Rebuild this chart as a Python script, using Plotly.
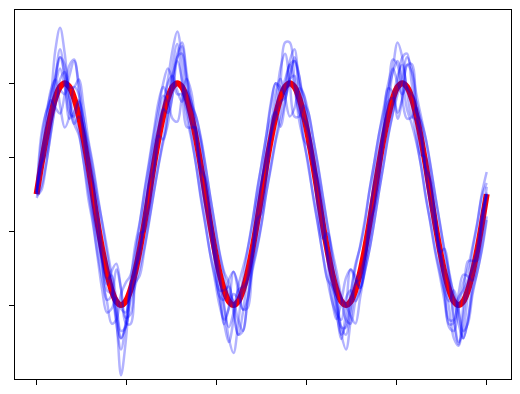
import plotly.graph_objects as go

# sample grid: 97 points from 0 to 5
x_vals = [round(i * 5 / 96, 5) for i in range(97)]

red_wave = [0, .39, .75, 1.06, 1.30, 1.45, 1.50, 1.45, 1.30, 1.06, .75, .39,
            0, -.39, -.75, -1.06, -1.30, -1.45, -1.50, -1.45, -1.30, -1.06, -.75, -.39,
            0, .39, .75, 1.06, 1.30, 1.45, 1.50, 1.45, 1.30, 1.06, .75, .39,
            0, -.39, -.75, -1.06, -1.30, -1.45, -1.50, -1.45, -1.30, -1.06, -.75, -.39,
            0, .39, .75, 1.06, 1.30, 1.45, 1.50, 1.45, 1.30, 1.06, .75, .39,
            0, -.39, -.75, -1.06, -1.30, -1.45, -1.50, -1.45, -1.30, -1.06, -.75, -.39,
            0, .39, .75, 1.06, 1.30, 1.45, 1.50, 1.45, 1.30, 1.06, .75, .39,
            0, -.39, -.75, -1.06, -1.30, -1.45, -1.50, -1.45, -1.30, -1.06, -.75, -.39,
            0]

noisy_a = [0, .41, .53, .90, 1.56, 1.96, 1.58, 1.02, 1.11, 1.27, 1.01, .55,
           .22, -.15, -.90, -1.43, -1.37, -1.02, -1.28, -1.74, -1.76, -1.11, -.53, -.50,
           -.20, .35, .79, .74, 1.11, 1.74, 2.03, 1.52, .91, .90, .90, .70,
           .15, -.30, -.64, -1.27, -1.76, -1.52, -1.05, -1.23, -1.56, -1.43, -.79, -.10,
           .18, .65, 1.01, 1.11, .91, 1.23, 1.80, 1.96, 1.37, .74, .64, .35,
           -.22, -.60, -.53, -.90, -1.56, -1.96, -1.58, -1.02, -1.11, -1.27, -1.01, -.25,
           .12, .45, .90, 1.43, 1.37, 1.02, 1.28, 1.74, 1.76, 1.11, .53, .50,
           .20, -.35, -.79, -.74, -1.11, -1.74, -2.03, -1.52, -.91, -.90, -.90, -.30,
           0]

noisy_b = [.02, .43, .94, 1.27, 1.17, 1.09, 1.35, 1.74, 1.82, 1.38, .75, .20,
           -.25, -.60, -.98, -1.22, -1.04, -.94, -1.28, -1.67, -1.63, -1.17, -.68, -.15,
           .20, .60, 1.01, 1.33, 1.24, 1.02, .98, 1.31, 1.56, 1.38, .86, .20,
           -.20, -.55, -.86, -1.38, -1.43, -1.16, -1.05, -1.31, -1.56, -1.54, -.98, -.55,
           -.15, .20, .86, 1.38, 1.56, 1.31, 1.05, 1.16, 1.43, 1.33, .90, .55,
           .18, -.20, -.86, -1.43, -1.69, -1.45, -1.13, -1.02, -1.17, -1.27, -.98, -.60,
           -.20, .15, .79, 1.33, 1.82, 1.74, 1.28, 1.02, 1.04, 1.17, .98, .30,
           -.15, -.50, -.71, -1.27, -1.76, -1.74, -1.35, -1.09, -1.11, -1.17, -.90, -.55,
           0]

noisy_c = [0, .30, .70, 1.25, 1.95, 2.25, 1.90, 1.30, .95, 1.05, .90, .60,
           .20, -.45, -.95, -1.30, -1.35, -1.70, -2.45, -2.00, -1.30, -1.00, -.85, -.30,
           .15, .35, .80, 1.20, 1.55, 1.95, 2.20, 1.85, 1.25, .95, .85, .30,
           -.15, -.40, -.85, -1.15, -1.50, -1.95, -2.15, -1.75, -1.30, -1.20, -.90, -.25,
           .20, .45, .80, 1.10, 1.50, 2.05, 2.05, 1.55, 1.10, 1.00, .85, .55,
           .15, -.40, -.85, -1.20, -1.45, -1.90, -2.10, -1.70, -1.20, -1.05, -.85, -.55,
           -.15, .40, .85, 1.20, 1.70, 2.05, 1.85, 1.40, 1.05, 1.00, .80, .25,
           -.10, -.40, -.80, -1.15, -1.55, -1.95, -2.05, -1.65, -1.20, -1.00, -.80, -.25,
           0]

noisy_d = [.02, .50, .95, 1.40, 1.55, 1.20, .90, 1.05, 1.45, 1.35, .80, .35,
           -.20, -.55, -.90, -1.15, -1.10, -1.45, -1.85, -1.80, -1.35, -.95, -.72, -.42,
           .25, .65, .90, 1.15, 1.10, 1.35, 1.85, 2.00, 1.55, 1.05, .70, .33,
           .20, -.30, -.95, -1.30, -1.30, -1.25, -1.60, -1.90, -1.60, -1.10, -.75, -.35,
           -.25, .25, .85, 1.20, 1.70, 1.90, 1.50, 1.05, 1.05, 1.20, .90, .42,
           -.15, -.55, -.75, -1.00, -1.35, -1.80, -1.90, -1.55, -1.20, -1.15, -.90, -.40,
           .25, .60, .95, 1.25, 1.30, 1.10, 1.30, 1.75, 1.65, 1.15, .70, .35,
           .20, -.25, -.90, -1.30, -1.45, -1.30, -1.55, -1.95, -1.70, -1.15, -.70, -.35,
           .02]

noisy_e = [-.02, .05, .38, .82, 1.20, 1.40, 1.35, 1.60, 1.80, 1.50, 1.00, .70,
           .35, -.05, -.38, -.72, -1.10, -1.55, -1.95, -1.75, -1.35, -1.20, -1.10, -.75,
           -.38, .02, .38, .70, .95, 1.35, 1.85, 1.90, 1.55, 1.20, 1.05, .78,
           .40, -.02, -.40, -.78, -1.05, -1.20, -1.50, -1.90, -1.85, -1.40, -1.00, -.72,
           -.38, .02, .36, .72, .98, 1.25, 1.60, 1.80, 1.60, 1.25, 1.10, .75,
           .38, -.02, -.42, -.80, -1.15, -1.40, -1.50, -1.65, -1.75, -1.40, -1.05, -.75,
           -.38, .02, .40, .78, 1.10, 1.45, 1.85, 1.90, 1.50, 1.10, .98, .75,
           .40, -.02, -.38, -.78, -1.10, -1.35, -1.60, -1.85, -1.75, -1.35, -1.05, -.75,
           -.35]

noisy_f = [.03, .40, .70, 1.00, 1.45, 1.70, 1.45, 1.10, 1.05, 1.25, 1.00, .40,
           .15, -.30, -.70, -.95, -1.25, -1.75, -2.10, -1.75, -1.25, -1.05, -.78, -.38,
           -.18, .25, .75, 1.10, 1.50, 1.60, 1.40, 1.25, 1.40, 1.25, .80, .40,
           .22, -.20, -.70, -1.05, -1.55, -1.80, -1.60, -1.30, -1.25, -1.15, -.80, -.42,
           .15, .55, .78, 1.05, 1.25, 1.30, 1.55, 1.85, 1.60, 1.05, .75, .38,
           .20, -.25, -.78, -1.20, -1.60, -1.70, -1.40, -1.30, -1.45, -1.30, -.80, -.38,
           -.20, .22, .70, 1.00, 1.25, 1.60, 1.75, 1.45, 1.35, 1.25, .80, .36,
           .15, -.28, -.75, -1.00, -1.20, -1.65, -2.00, -1.85, -1.35, -.95, -.75, -.40,
           .10]

noisy_g = [0, .80, 1.10, 1.25, 1.60, 1.85, 1.60, 1.20, .95, .80, .45, -.05,
           -.40, -.85, -1.30, -1.60, -1.55, -1.40, -1.55, -1.60, -1.20, -.70, -.38, .05,
           .45, .85, 1.25, 1.45, 1.35, 1.60, 1.80, 1.55, 1.05, .75, .40, -.05,
           -.42, -.80, -1.10, -1.40, -1.75, -2.00, -1.70, -1.25, -1.00, -.75, -.40, .05,
           .40, .80, 1.25, 1.50, 1.40, 1.55, 1.75, 1.45, 1.00, .70, .40, -.05,
           -.42, -.80, -1.15, -1.25, -1.45, -1.80, -1.80, -1.35, -.95, -.72, -.40, .05,
           .42, .80, 1.15, 1.50, 1.70, 1.50, 1.35, 1.45, 1.20, .75, .38, -.05,
           -.38, -.75, -1.05, -1.35, -1.70, -1.70, -1.40, -1.30, -1.15, -.75, -.40, -.02,
           .15]

noisy_h = [.05, .70, 1.10, 1.35, 1.55, 1.85, 1.75, 1.30, 1.05, .85, .45, .05,
           -.35, -.80, -1.15, -1.45, -1.75, -1.70, -1.35, -1.20, -1.10, -.80, -.40, .02,
           .40, .80, 1.15, 1.50, 1.70, 1.55, 1.35, 1.35, 1.15, .80, .40, -.02,
           -.40, -.80, -1.15, -1.50, -1.70, -1.55, -1.35, -1.40, -1.15, -.75, -.38, .02,
           .42, .80, 1.20, 1.50, 1.45, 1.35, 1.55, 1.60, 1.20, .75, .35, -.02,
           -.40, -.80, -1.15, -1.45, -1.65, -1.90, -1.75, -1.35, -1.00, -.70, -.35, .05,
           .42, .80, 1.10, 1.40, 1.65, 1.80, 1.55, 1.15, .95, .70, .38, -.02,
           -.40, -.78, -1.10, -1.45, -1.80, -1.85, -1.55, -1.20, -1.00, -.70, -.38, .02,
           .30]

noisy_i = [-.05, .10, .40, .80, 1.20, 1.55, 1.65, 1.45, 1.45, 1.55, 1.20, .75,
           .40, 0, -.40, -.80, -1.20, -1.65, -1.95, -1.80, -1.45, -1.25, -1.00, -.72,
           -.35, .02, .40, .75, 1.10, 1.55, 1.90, 2.05, 1.65, 1.25, 1.05, .75,
           .38, -.02, -.42, -.80, -1.10, -1.35, -1.45, -1.70, -1.85, -1.45, -1.05, -.75,
           -.40, .02, .40, .75, 1.10, 1.45, 1.75, 1.80, 1.50, 1.35, 1.10, .75,
           .40, 0, -.40, -.75, -1.05, -1.40, -1.70, -1.75, -1.45, -1.30, -1.05, -.75,
           -.38, .02, .40, .80, 1.10, 1.35, 1.60, 1.85, 1.70, 1.35, 1.05, .75,
           .38, 0, -.40, -.75, -1.05, -1.40, -1.75, -1.95, -1.70, -1.30, -1.05, -.72,
           -.30]

x_ticks = [0, 1, 2, 3, 4, 5]
y_ticks = [-1.5, -0.5, 0.5, 1.5]

fig = go.Figure()

fig.add_trace(go.Scatter(x=x_vals, y=red_wave, mode="lines",
                         line=dict(color="#ff0000", width=6, shape="spline", smoothing=1.0),
                         hoverinfo="skip"))

for series in [noisy_a, noisy_b, noisy_c, noisy_d, noisy_e, noisy_f,
               noisy_g, noisy_h, noisy_i]:
    fig.add_trace(go.Scatter(x=x_vals, y=series, mode="lines",
                             line=dict(color="rgba(0,0,255,0.3)", width=2.5,
                                       shape="spline", smoothing=1.0),
                             hoverinfo="skip"))

axis_common = dict(showline=True, linecolor="black", linewidth=1, mirror=True,
                   showgrid=False, zeroline=False, ticks="outside", ticklen=5,
                   tickcolor="black", tickwidth=1, showticklabels=False)

fig.update_xaxes(range=[-0.24, 5.27], tickvals=x_ticks, **axis_common)
fig.update_yaxes(range=[-2.5, 2.49], tickvals=y_ticks, **axis_common)

# the page body adds an 8px offset, so margins are shifted to compensate
fig.update_layout(width=520, height=394, showlegend=False,
                  margin=dict(l=7, r=17, t=2, b=23, autoexpand=False),
                  paper_bgcolor="white", plot_bgcolor="white")

fig.write_html("out.html")
